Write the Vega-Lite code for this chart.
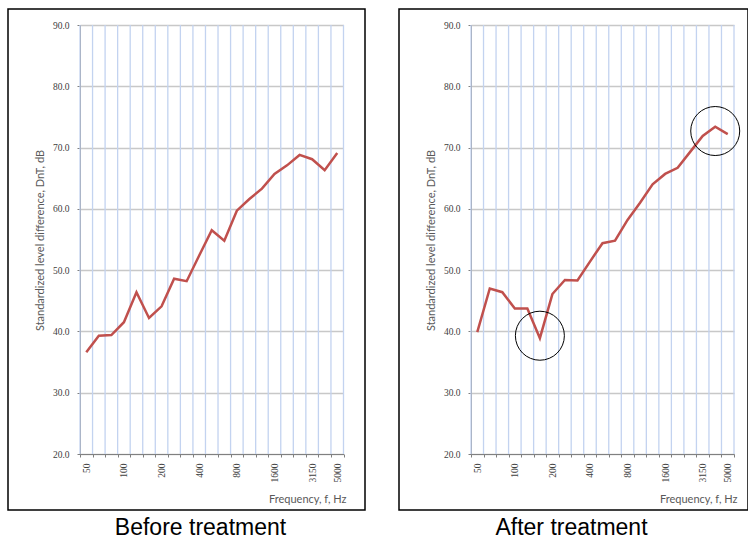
{
  "$schema": "https://vega.github.io/schema/vega-lite/v6.json",
  "background": "white",
  "padding": {"left": 2, "top": 8, "right": 0, "bottom": 0},
  "spacing": 27,
  "datasets": {
    "before": [
      {"freq": "50", "dnt": 36.6}, {"freq": "63", "dnt": 39.3}, {"freq": "80", "dnt": 39.4},
      {"freq": "100", "dnt": 41.5}, {"freq": "125", "dnt": 46.4}, {"freq": "160", "dnt": 42.2},
      {"freq": "200", "dnt": 44.1}, {"freq": "250", "dnt": 48.6}, {"freq": "315", "dnt": 48.2},
      {"freq": "400", "dnt": 52.4}, {"freq": "500", "dnt": 56.5}, {"freq": "630", "dnt": 54.8},
      {"freq": "800", "dnt": 59.7}, {"freq": "1000", "dnt": 61.6}, {"freq": "1250", "dnt": 63.3},
      {"freq": "1600", "dnt": 65.7}, {"freq": "2000", "dnt": 67.1}, {"freq": "2500", "dnt": 68.8},
      {"freq": "3150", "dnt": 68.1}, {"freq": "4000", "dnt": 66.3}, {"freq": "5000", "dnt": 69.1}
    ],
    "after": [
      {"freq": "50", "dnt": 39.9}, {"freq": "63", "dnt": 47.0}, {"freq": "80", "dnt": 46.4},
      {"freq": "100", "dnt": 43.75}, {"freq": "125", "dnt": 43.75}, {"freq": "160", "dnt": 38.9},
      {"freq": "200", "dnt": 46.1}, {"freq": "250", "dnt": 48.4}, {"freq": "315", "dnt": 48.3},
      {"freq": "400", "dnt": 51.4}, {"freq": "500", "dnt": 54.4}, {"freq": "630", "dnt": 54.8},
      {"freq": "800", "dnt": 58.2}, {"freq": "1000", "dnt": 61.0}, {"freq": "1250", "dnt": 64.0},
      {"freq": "1600", "dnt": 65.7}, {"freq": "2000", "dnt": 66.7}, {"freq": "2500", "dnt": 69.3},
      {"freq": "3150", "dnt": 71.9}, {"freq": "4000", "dnt": 73.4}, {"freq": "5000", "dnt": 72.2}
    ],
    "circles": [
      {"freq": "160", "dnt": 39.3},
      {"freq": "4000", "dnt": 72.7}
    ]
  },
  "hconcat": [
    {
      "width": 357,
      "height": 501,
      "title": {"text": "Before treatment", "orient": "bottom", "anchor": "middle", "dx": 14, "offset": 7},
      "layer": [
        {
          "data": {"name": "before"},
          "mark": {"type": "rule", "color": "#c3d3f0", "strokeWidth": 1.3},
          "encoding": {
            "x": {"field": "freq", "type": "ordinal", "bandPosition": 0},
            "y": {"datum": 20, "type": "quantitative"},
            "y2": {"datum": 90}
          }
        },
        {
          "data": {"name": "before"},
          "transform": [{"filter": "datum.freq == '5000'"}],
          "mark": {"type": "rule", "color": "#c3d3f0", "strokeWidth": 1.3},
          "encoding": {
            "x": {"field": "freq", "type": "ordinal", "bandPosition": 1},
            "y": {"datum": 20, "type": "quantitative"},
            "y2": {"datum": 90}
          }
        },
        {
          "data": {"name": "before"},
          "mark": {"type": "line", "color": "#c0504d", "strokeWidth": 2.5},
          "encoding": {
            "x": {
              "field": "freq", "type": "ordinal",
              "scale": {"domain": ["50","63","80","100","125","160","200","250","315","400","500","630","800","1000","1250","1600","2000","2500","3150","4000","5000"], "range": [72, 335.5], "paddingInner": 0, "paddingOuter": 0},
              "axis": {"offset": -56, "title": "Frequency, f, Hz", "titleX": 338, "titleY": 45, "titleAlign": "right", "titleBaseline": "middle", "titleAnchor": "end"}
            },
            "y": {
              "field": "dnt", "type": "quantitative",
              "scale": {"domain": [20, 90], "range": [445, 16], "nice": false, "zero": false},
              "axis": {"offset": -72, "values": [20, 30, 40, 50, 60, 70, 80, 90], "title": "Standardized level difference, DnT, dB", "titleX": -40, "titleY": 231, "titleAngle": -90, "titleAlign": "center", "titleBaseline": "middle"}
            }
          }
        }
      ]
    },
    {
      "width": 349,
      "height": 501,
      "title": {"text": "After treatment", "orient": "bottom", "anchor": "middle", "dx": -2, "offset": 7},
      "layer": [
        {
          "data": {"name": "after"},
          "mark": {"type": "rule", "color": "#c3d3f0", "strokeWidth": 1.3},
          "encoding": {
            "x": {"field": "freq", "type": "ordinal", "bandPosition": 0},
            "y": {"datum": 20, "type": "quantitative"},
            "y2": {"datum": 90}
          }
        },
        {
          "data": {"name": "after"},
          "transform": [{"filter": "datum.freq == '5000'"}],
          "mark": {"type": "rule", "color": "#c3d3f0", "strokeWidth": 1.3},
          "encoding": {
            "x": {"field": "freq", "type": "ordinal", "bandPosition": 1},
            "y": {"datum": 20, "type": "quantitative"},
            "y2": {"datum": 90}
          }
        },
        {
          "data": {"name": "after"},
          "mark": {"type": "line", "color": "#c0504d", "strokeWidth": 2.5},
          "encoding": {
            "x": {
              "field": "freq", "type": "ordinal",
              "scale": {"domain": ["50","63","80","100","125","160","200","250","315","400","500","630","800","1000","1250","1600","2000","2500","3150","4000","5000"], "range": [72, 335], "paddingInner": 0, "paddingOuter": 0},
              "axis": {"offset": -56, "title": "Frequency, f, Hz", "titleX": 338, "titleY": 45, "titleAlign": "right", "titleBaseline": "middle", "titleAnchor": "end"}
            },
            "y": {
              "field": "dnt", "type": "quantitative",
              "scale": {"domain": [20, 90], "range": [445, 16], "nice": false, "zero": false},
              "axis": {"offset": -72, "values": [20, 30, 40, 50, 60, 70, 80, 90], "title": "Standardized level difference, DnT, dB", "titleX": -40, "titleY": 231, "titleAngle": -90, "titleAlign": "center", "titleBaseline": "middle"}
            }
          }
        },
        {
          "data": {"name": "circles"},
          "mark": {"type": "point", "shape": "circle", "filled": false, "stroke": "#000000", "strokeWidth": 1, "size": 2400, "opacity": 1},
          "encoding": {
            "x": {"field": "freq", "type": "ordinal"},
            "y": {"field": "dnt", "type": "quantitative"}
          }
        }
      ]
    }
  ],
  "config": {
    "view": {"stroke": "#000000", "strokeWidth": 1.5},
    "title": {"font": "Liberation Sans", "fontSize": 23, "fontWeight": "normal", "color": "#000000", "baseline": "top"},
    "axis": {
      "labelFont": "Liberation Serif",
      "labelFontSize": 9.5,
      "labelColor": "#404040",
      "titleFont": "Lato",
      "titleFontSize": 11,
      "titleFontWeight": "normal",
      "titleColor": "#595959",
      "tickColor": "#808080",
      "tickSize": 3,
      "labelPadding": 4,
      "domainColor": "#808080"
    },
    "axisX": {
      "tickBand": "extent",
      "labelAngle": -90,
      "labelExpr": "indexof(['50','100','200','400','800','1600','3150','5000'], datum.value) >= 0 ? datum.label : ''",
      "grid": false,
      "labelPadding": 6
    },
    "axisY": {
      "format": ".1f",
      "grid": true,
      "gridColor": "#c8c8c8",
      "gridWidth": 1.5,
      "labelPadding": 8
    }
  }
}
